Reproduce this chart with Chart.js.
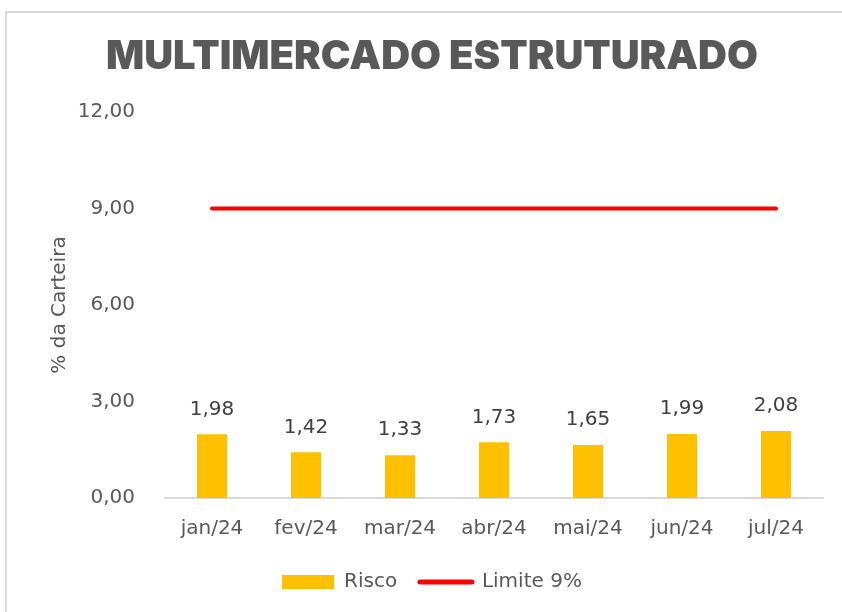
<!DOCTYPE html>
<html>
<head>
<meta charset="utf-8">
<script src="https://cdn.jsdelivr.net/npm/chart.js@4/dist/chart.umd.min.js"></script>
<style>
  html, body { margin: 0; padding: 0; background: #fff; overflow: hidden; }
  body { width: 842px; height: 612px; position: relative; }
  #frame { position: absolute; left: 5px; top: 11px; width: 900px; height: 700px; border: 2px solid #d9d9d9; box-sizing: border-box; }
  #wrap { position: absolute; left: 0; top: 0; width: 864px; height: 612px; }
</style>
</head>
<body>
<div id="frame"></div>
<div id="wrap"><canvas id="chart"></canvas></div>
<script>
// --- dados ---
const meses = ['jan/24', 'fev/24', 'mar/24', 'abr/24', 'mai/24', 'jun/24', 'jul/24'];
const risco = [1.98, 1.42, 1.33, 1.73, 1.65, 1.99, 2.08];
const limite = [9, 9, 9, 9, 9, 9, 9];
const yTicks = [0, 3, 6, 9, 12];

const fmt = v => v.toFixed(2).replace('.', ',');
const FONT = "'DejaVu Sans', sans-serif";
const CINZA = '#595959';

// rótulos de valor acima das barras
const rotulos = {
  id: 'rotulos',
  afterDatasetsDraw(chart) {
    const ctx = chart.ctx;
    const meta = chart.getDatasetMeta(1);
    ctx.save();
    ctx.font = '20px ' + FONT;
    ctx.fillStyle = '#404040';
    ctx.textAlign = 'center';
    ctx.textBaseline = 'middle';
    meta.data.forEach((bar, i) => {
      ctx.fillText(fmt(risco[i]), bar.x, bar.y - 25);
    });
    ctx.restore();
  }
};

new Chart(document.getElementById('chart'), {
  data: {
    labels: meses,
    datasets: [
      {
        type: 'line',
        label: 'Limite 9%',
        data: limite,
        borderColor: '#ff0000',
        backgroundColor: '#ff0000',
        borderWidth: 4,
        borderCapStyle: 'round',
        pointRadius: 0,
        order: 0
      },
      {
        type: 'bar',
        label: 'Risco',
        data: risco,
        backgroundColor: '#ffc000',
        barPercentage: 0.32,
        categoryPercentage: 1,
        order: 1
      }
    ]
  },
  options: {
    responsive: true,
    maintainAspectRatio: false,
    animation: false,
    layout: { padding: { left: 41, right: 41, top: 0, bottom: 10 } },
    scales: {
      x: {
        grid: { display: false },
        border: { display: true, color: '#d9d9d9', width: 2 },
        ticks: { color: CINZA, font: { family: FONT, size: 20 }, padding: 11 },
        afterFit: s => { s.height = 64; }
      },
      y: {
        min: 0, max: 12,
        afterBuildTicks: s => { s.ticks = yTicks.map(v => ({ value: v })); },
        grid: { display: false },
        border: { display: false },
        ticks: { color: CINZA, font: { family: FONT, size: 20 }, padding: 22, callback: v => fmt(v) },
        title: { display: true, text: '% da Carteira', color: CINZA, font: { family: FONT, size: 20 }, padding: { top: 7, bottom: 0 } },
        afterFit: s => { s.width = 124; }
      }
    },
    plugins: {
      tooltip: { enabled: false },
      title: {
        display: true,
        text: 'MULTIMERCADO ESTRUTURADO',
        color: CINZA,
        font: { family: "'Inter', sans-serif", size: 40, weight: 900, lineHeight: 1.2 },
        padding: { top: 33, bottom: 31 }
      },
      legend: {
        position: 'bottom',
        labels: {
          color: CINZA,
          font: { family: FONT, size: 20 },
          usePointStyle: true,
          pointStyleWidth: 52,
          boxHeight: 14,
          padding: 10,
          generateLabels: () => [
            { text: 'Risco  ', fillStyle: '#ffc000', strokeStyle: '#ffc000', lineWidth: 0, pointStyle: 'rect', fontColor: CINZA, datasetIndex: 1 },
            { text: 'Limite 9%', fillStyle: '#ff0000', strokeStyle: '#ff0000', lineWidth: 5, lineCap: 'round', pointStyle: 'line', fontColor: CINZA, datasetIndex: 0 }
          ]
        }
      }
    }
  },
  plugins: [rotulos]
});
</script>
</body>
</html>
